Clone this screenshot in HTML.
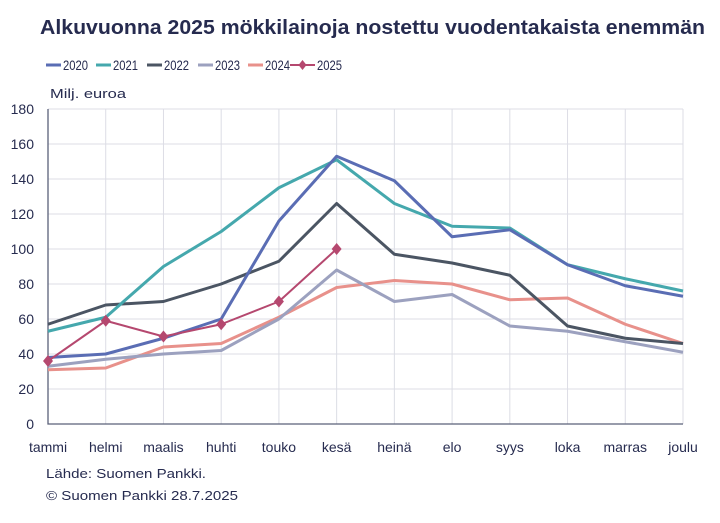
<!DOCTYPE html>
<html><head><meta charset="utf-8"><style>
body{margin:0;background:#fff;}
svg{display:block;font-family:"Liberation Sans",sans-serif;}
</style></head><body>
<svg id="chart" width="720" height="523" viewBox="0 0 720 523">
<text x="40" y="34" font-size="20" font-weight="bold" fill="#262b4f" textLength="665" lengthAdjust="spacingAndGlyphs">Alkuvuonna 2025 mökkilainoja nostettu vuodentakaista enemmän</text>
<g id="legend"></g>
<text x="50" y="98" font-size="13" fill="#262b4f" textLength="76" lengthAdjust="spacingAndGlyphs">Milj. euroa</text>
<g id="grid"></g>
<g id="axes"></g>
<g id="series"></g>
<text x="46" y="478" font-size="13" fill="#262b4f" textLength="160" lengthAdjust="spacingAndGlyphs">Lähde: Suomen Pankki.</text>
<text x="46" y="500" font-size="13" fill="#262b4f" textLength="192" lengthAdjust="spacingAndGlyphs">© Suomen Pankki 28.7.2025</text>
</svg>
<script>
const categories=["tammi","helmi","maalis","huhti","touko","kesä","heinä","elo","syys","loka","marras","joulu"];
const yTicks=[0,20,40,60,80,100,120,140,160,180];
const seriesNames=["2020","2021","2022","2023","2024","2025"];
const s2020=[38,40,49,60,116,153,139,107,111,91,79,73];
const s2021=[53,61,90,110,135,151,126,113,112,91,83,76];
const s2022=[57,68,70,80,93,126,97,92,85,56,49,46];
const s2023=[33,37,40,42,60,88,70,74,56,53,47,41];
const s2024=[31,32,44,46,61,78,82,80,71,72,57,46];
const s2025=[36,59,50,57,70,100];
const colors=["#5a6db4","#45a8ad","#4b5563","#9ca1bf","#e8918b","#b5486f"];
const ns="http://www.w3.org/2000/svg";
const X0=48,X1=683,Y0=424,Y1=109,YMAX=180;
const xs=i=>X0+i*(X1-X0)/(categories.length-1);
const ys=v=>Y0-v/YMAX*(Y0-Y1);
function mk(tag,attrs,parent){const e=document.createElementNS(ns,tag);for(const k in attrs)e.setAttribute(k,attrs[k]);parent.appendChild(e);return e;}
const grid=document.getElementById('grid'),axes=document.getElementById('axes'),ser=document.getElementById('series'),leg=document.getElementById('legend');
yTicks.forEach(t=>{
 if(t>0){const l=mk('line',{x1:X0,x2:X1,y1:ys(t),y2:ys(t),stroke:"#dcdde5","stroke-width":1},grid);
 
 }
 const tx=mk('text',{x:34,y:ys(t)+5,"text-anchor":"end","font-size":14,fill:"#262b4f"},axes);tx.textContent=t;
 
 
});
categories.forEach((c,i)=>{
 if(i>0){const l=mk('line',{x1:xs(i),x2:xs(i),y1:Y1,y2:Y0,stroke:"#dcdde5","stroke-width":1},grid);
 
 }
 const tx=mk('text',{x:xs(i),y:452,"text-anchor":"middle","font-size":14,fill:"#262b4f"},axes);tx.textContent=c;
 
 
});
const ax=mk('path',{d:`M${X0} ${Y1}V${Y0}H${X1}`,fill:"none",stroke:"#5b6079","stroke-width":1.3},axes);


const data=[s2020,s2021,s2022,s2023,s2024,s2025];
const order=[4,3,2,1,0,5];
order.forEach(k=>{
 const d=data[k].map((v,i)=>(i?'L':'M')+xs(i)+' '+ys(v)).join('');
 const p=mk('path',{d:d,fill:"none",stroke:colors[k],"stroke-width":k==5?2:3,"stroke-linejoin":"round"},ser);
 
 
 if(k==5){data[k].forEach((v,i)=>{const x=xs(i),y=ys(v);
  const m=mk('path',{d:`M${x} ${y-6}L${x+5} ${y}L${x} ${y+6}L${x-5} ${y}Z`,fill:colors[k]},ser);
  
  });}
});
const lx=[46,96,147,198,248,290];
seriesNames.forEach((n,k)=>{
 const g=mk('g',{},leg);
 
 
 const w=k==5?25:15;
 mk('line',{x1:lx[k],x2:lx[k]+w,y1:65,y2:65,stroke:colors[k],"stroke-width":k==5?2:3},g);
 if(k==5){const c=lx[k]+w/2;mk('path',{d:`M${c} 60L${c+4} 65L${c} 70L${c-4} 65Z`,fill:colors[k]},g);}
 const t=mk('text',{x:lx[k]+w+2,y:70,"font-size":14,fill:"#262b4f",textLength:25,lengthAdjust:"spacingAndGlyphs"},g);t.textContent=n;
});
</script>
</body></html>
